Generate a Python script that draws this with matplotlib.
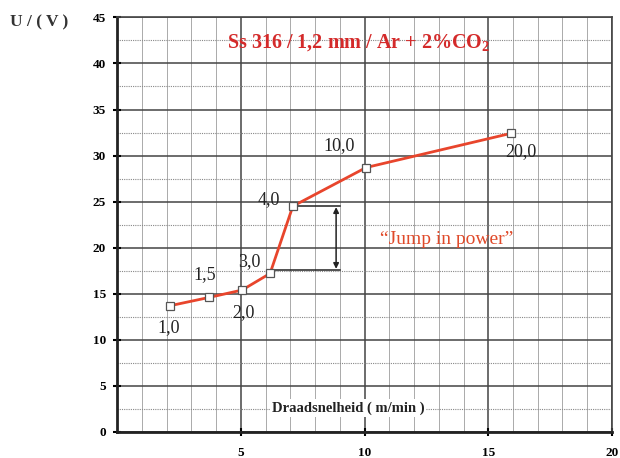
"""
Arc voltage vs wire feed speed, Ss 316 / 1,2 mm / Ar + 2%CO2.
"""

import matplotlib

matplotlib.use("Agg")

import matplotlib.pyplot as plt
from matplotlib.ticker import MultipleLocator

# wire feed speed (m/min) and voltage (V)
speed = [2.14, 3.72, 5.05, 6.18, 7.1, 10.06, 15.9]
voltage = [13.7, 14.6, 15.4, 17.2, 24.5, 28.7, 32.4]
point_labels = ["1,0", "1,5", "2,0", "3,0", "4,0", "10,0", "20,0"]
label_offsets = [(-9, -16), (-11.5, 16.5), (-7, -16.5), (-23, 8.6), (-25, 5), (-31, 16), (-3.6, -13)]

x_ticks = [5, 10, 15, 20]
y_ticks = [0, 5, 10, 15, 20, 25, 30, 35, 40, 45]

plt.rcParams["font.family"] = ["Liberation Serif", "DejaVu Serif"]
plt.rcParams["mathtext.fontset"] = "custom"
plt.rcParams["mathtext.rm"] = "Liberation Serif"
plt.rcParams["mathtext.bf"] = "Liberation Serif:bold"

fig = plt.figure(figsize=(6.2, 4.58), dpi=100)
ax = fig.add_axes([0.189, 0.057, 0.798, 0.905])

ax.set_xlim(0, 20)
ax.set_ylim(0, 45)

# grid
ax.xaxis.set_minor_locator(MultipleLocator(1))
ax.yaxis.set_minor_locator(MultipleLocator(2.5))
ax.grid(which="major", color="#444444", lw=1.1, zorder=0)
ax.grid(which="minor", axis="x", color="#aaaaaa", lw=0.7, zorder=0)
ax.grid(which="minor", axis="y", color="#888888", lw=0.8, ls=(0, (1, 1)), zorder=0)

ax.set_xticks(x_ticks)
ax.set_yticks(y_ticks)
ax.tick_params(which="major", direction="inout", length=6, width=1.5, labelsize=9.5)
ax.tick_params(which="minor", length=0)
ax.tick_params(axis="x", pad=8)
ax.tick_params(axis="y", pad=5)
for lbl in ax.get_xticklabels() + ax.get_yticklabels():
    lbl.set_fontweight("bold")

for side in ["left", "bottom"]:
    ax.spines[side].set_linewidth(2)
    ax.spines[side].set_color("#222222")
for side in ["right", "top"]:
    ax.spines[side].set_linewidth(1.2)
    ax.spines[side].set_color("#444444")

# curve
ax.plot(speed, voltage, color="#e8452c", lw=2, zorder=3)
ax.plot(speed, voltage, ls="none", marker="s", ms=6, mfc="white",
        mec="#555555", mew=0.9, zorder=4)

for xv, yv, txt, off in zip(speed, voltage, point_labels, label_offsets):
    ax.annotate(txt, (xv, yv), xytext=off, textcoords="offset points",
                fontsize=13, color="#222222", ha="left", va="center")

# jump bracket
ax.plot([speed[4], 9.0], [voltage[4], voltage[4]], color="#222222", lw=1.1, zorder=3)
ax.plot([speed[3], 9.0], [17.6, 17.6], color="#222222", lw=1.1, zorder=3)
ax.annotate("", xy=(8.85, 17.7), xytext=(8.85, 24.4),
            arrowprops=dict(arrowstyle="<|-|>", color="#222222", lw=1.1,
                            mutation_scale=8, shrinkA=0, shrinkB=0))

ax.text(13.3, 20.9, "\u201cJump in power\u201d", color="#e04a2a", fontsize=14,
        ha="center", va="center")

ax.text(9.75, 42.3, r"Ss 316 / 1,2 mm / Ar + 2%CO$_\mathbf{2}$", color="#d42a2a",
        fontsize=14.5, fontweight="bold", ha="center", va="center")

ax.text(6.25, 2.6, "Draadsnelheid ( m/min )", fontsize=10.5, fontweight="bold",
        color="#222222", ha="left", va="center",
        bbox=dict(facecolor="white", edgecolor="none", pad=1.5), zorder=2)

fig.text(0.016, 0.952, "U / ( V )", fontsize=12.5, fontweight="bold",
         color="#333333", ha="left", va="center")

fig.savefig("out.png", dpi=100)
plt.close(fig)
